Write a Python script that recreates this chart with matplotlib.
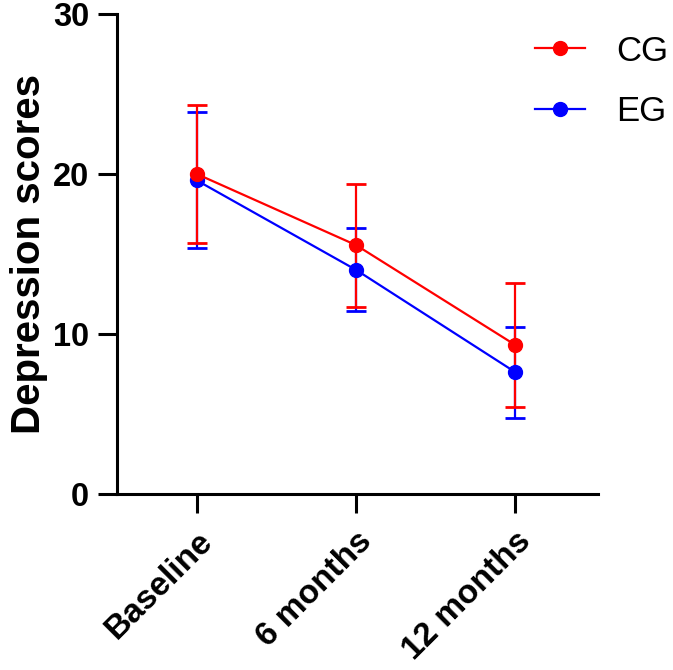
import matplotlib
matplotlib.use("Agg")
import matplotlib.pyplot as plt
from matplotlib.lines import Line2D

# time points and group values (mean, SD)
timepoints = ["Baseline", "6 months", "12 months"]
cg_mean = [20.0, 15.55, 9.3]
cg_sd = [4.3, 3.85, 3.9]
eg_mean = [19.6, 14.0, 7.6]
eg_sd = [4.25, 2.6, 2.85]

plt.rcParams['font.family'] = ['Liberation Sans', 'DejaVu Sans']

fig = plt.figure(figsize=(6.73, 6.70), dpi=100)
ax = fig.add_axes([0.174, 0.263, 0.715, 0.716])

x = list(range(len(timepoints)))

# EG first so CG sits on top
ax.errorbar(x, eg_mean, yerr=eg_sd, color="#0000ff", marker="o", markersize=10,
            linewidth=1.6, elinewidth=1.6, capsize=7, capthick=2)
ax.errorbar(x, cg_mean, yerr=cg_sd, color="#ff0000", marker="o", markersize=10,
            linewidth=1.6, elinewidth=1.6, capsize=7, capthick=2)

ax.set_xlim(-0.5, 2.52)
ax.set_ylim(0, 30)
ax.set_yticks([0, 10, 20, 30])
ax.set_xticks(x)
ax.set_xticklabels(timepoints, rotation=45, ha="right", va="top",
                   rotation_mode="anchor", fontweight="bold", fontsize=24)
for lab in ax.get_yticklabels():
    lab.set_fontweight("bold")
    lab.set_fontsize(23.5)

ax.set_ylabel("Depression scores", fontsize=29, fontweight="bold", labelpad=4)

for side in ["top", "right"]:
    ax.spines[side].set_visible(False)
for side in ["left", "bottom"]:
    ax.spines[side].set_linewidth(2.2)
ax.tick_params(width=2.2, length=14)
ax.tick_params(axis="y", pad=6)
ax.tick_params(axis="x", pad=9)

# legend with plain line + marker handles
h_cg = Line2D([], [], color="#ff0000", marker="o", markersize=10, linewidth=1.6)
h_eg = Line2D([], [], color="#0000ff", marker="o", markersize=10, linewidth=1.6)
fig.legend([h_cg, h_eg], ["CG", "EG"], loc="upper right",
           bbox_to_anchor=(1.04, 0.995), frameon=False, fontsize=25,
           handlelength=1.45, handletextpad=0.9, labelspacing=0.8)

fig.savefig("out.png", dpi=100)
